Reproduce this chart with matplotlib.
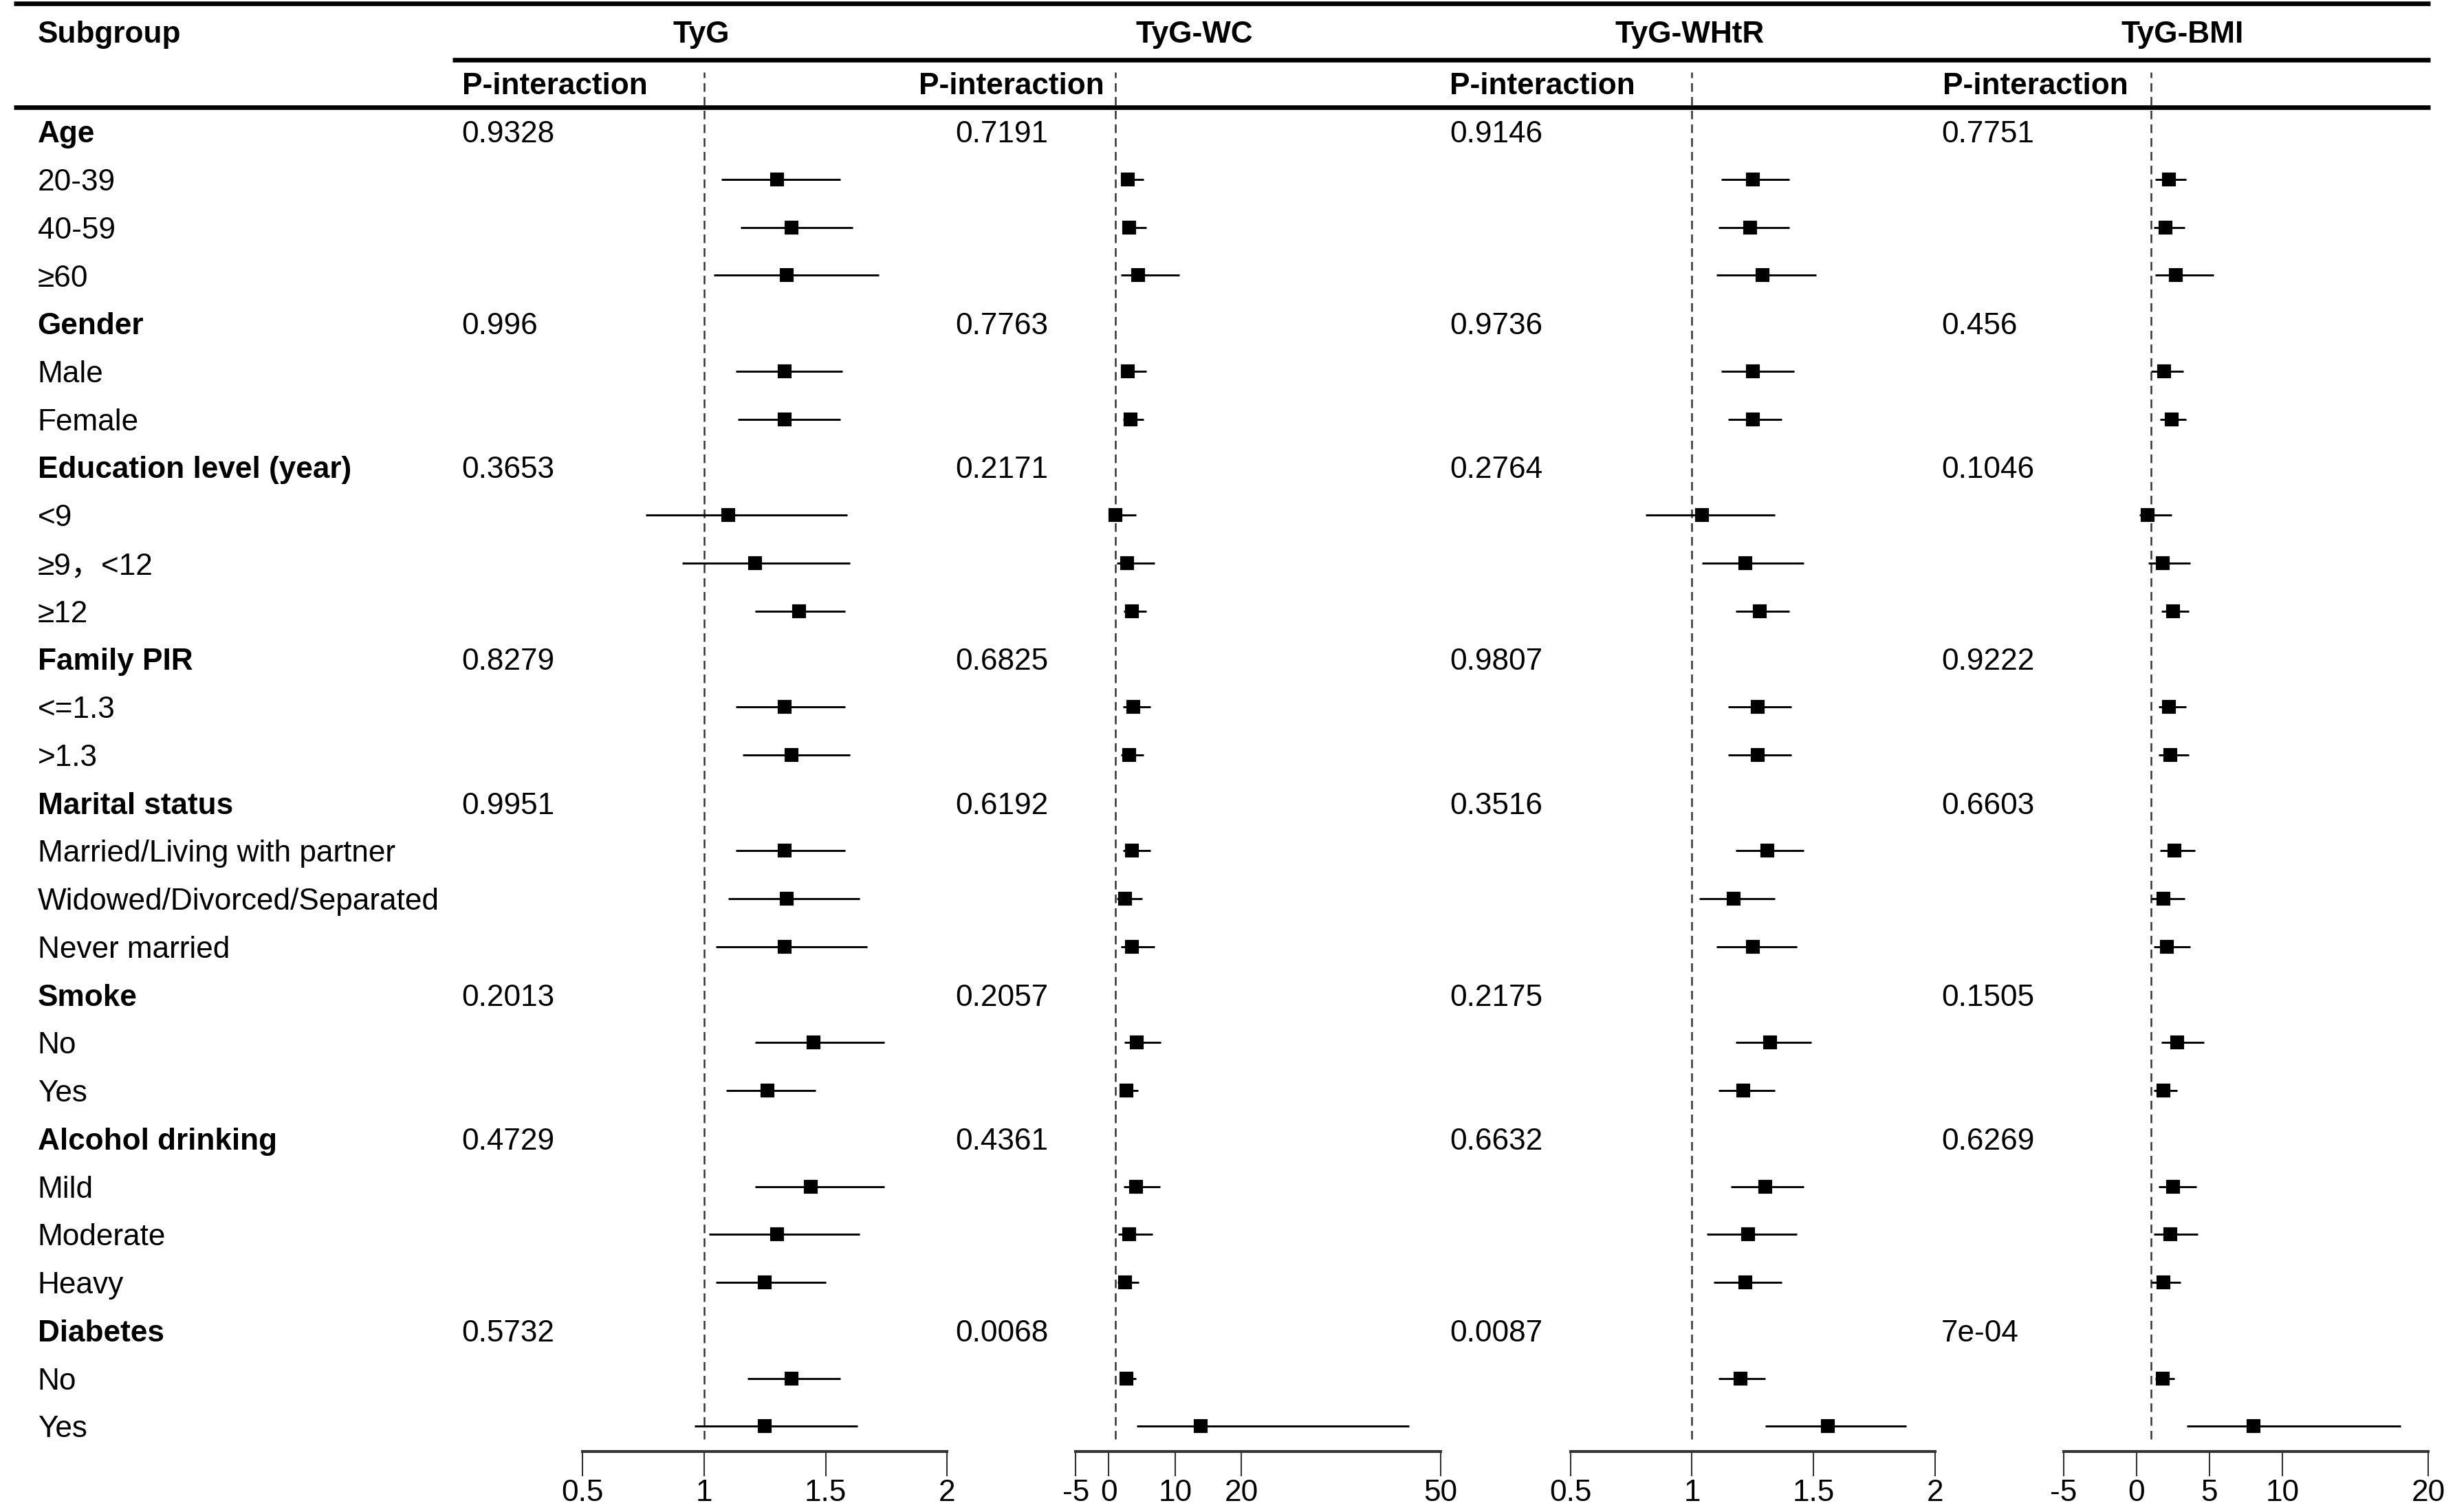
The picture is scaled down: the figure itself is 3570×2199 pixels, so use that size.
import numpy as np
import matplotlib
matplotlib.use("Agg")
import matplotlib.pyplot as plt

plt.rcParams['font.family'] = ['Liberation Sans', 'Noto Sans CJK SC', 'DejaVu Sans']

# ---------------- data ----------------
row_labels = ["Age", "20-39", "40-59", "≥60",
              "Gender", "Male", "Female",
              "Education level (year)", "<9", "≥9，<12", "≥12",
              "Family PIR", "<=1.3", ">1.3",
              "Marital status", "Married/Living with partner", "Widowed/Divorced/Separated", "Never married",
              "Smoke", "No", "Yes",
              "Alcohol drinking", "Mild", "Moderate", "Heavy",
              "Diabetes", "No", "Yes"]
group_rows = [0, 4, 7, 11, 14, 18, 21, 25]

index_names = ["TyG", "TyG-WC", "TyG-WHtR", "TyG-BMI"]

p_tyg = ["0.9328", "0.996", "0.3653", "0.8279", "0.9951", "0.2013", "0.4729", "0.5732"]
p_wc = ["0.7191", "0.7763", "0.2171", "0.6825", "0.6192", "0.2057", "0.4361", "0.0068"]
p_whtr = ["0.9146", "0.9736", "0.2764", "0.9807", "0.3516", "0.2175", "0.6632", "0.0087"]
p_bmi = ["0.7751", "0.456", "0.1046", "0.9222", "0.6603", "0.1505", "0.6269", "7e-04"]

# subgroup rows (20 rows, in order)
est_tyg = [1.30, 1.36, 1.34, 1.33, 1.33, 1.10, 1.21, 1.39, 1.33, 1.36, 1.33, 1.34, 1.33, 1.45, 1.26, 1.44, 1.30, 1.25, 1.36, 1.25]
lo_tyg = [1.07, 1.15, 1.04, 1.13, 1.14, 0.76, 0.91, 1.21, 1.13, 1.16, 1.13, 1.10, 1.05, 1.21, 1.09, 1.21, 1.02, 1.05, 1.18, 0.96]
hi_tyg = [1.56, 1.61, 1.72, 1.57, 1.56, 1.59, 1.60, 1.58, 1.58, 1.60, 1.58, 1.64, 1.67, 1.74, 1.46, 1.74, 1.64, 1.50, 1.56, 1.63]

est_wc = [2.9, 3.1, 4.4, 2.9, 3.3, 1.0, 2.8, 3.5, 3.7, 3.1, 3.5, 2.4, 3.5, 4.2, 2.7, 4.1, 3.1, 2.4, 2.7, 13.9]
lo_wc = [1.8, 2.1, 1.8, 2.0, 2.1, 0.2, 1.2, 2.2, 2.1, 1.8, 2.1, 1.2, 1.8, 2.3, 1.6, 2.2, 1.4, 1.3, 1.8, 4.2]
hi_wc = [5.3, 5.7, 10.6, 5.7, 5.3, 4.1, 6.9, 5.7, 6.3, 5.3, 6.3, 5.0, 6.9, 7.8, 4.4, 7.7, 6.6, 4.5, 4.1, 45.3]

est_whtr = [1.25, 1.24, 1.29, 1.25, 1.25, 1.04, 1.22, 1.28, 1.27, 1.27, 1.31, 1.17, 1.25, 1.32, 1.21, 1.30, 1.23, 1.22, 1.20, 1.56]
lo_whtr = [1.12, 1.11, 1.10, 1.12, 1.15, 0.81, 1.04, 1.18, 1.15, 1.15, 1.18, 1.03, 1.10, 1.18, 1.11, 1.16, 1.06, 1.09, 1.11, 1.30]
hi_whtr = [1.40, 1.40, 1.51, 1.42, 1.37, 1.34, 1.46, 1.40, 1.41, 1.41, 1.46, 1.34, 1.43, 1.49, 1.34, 1.46, 1.43, 1.37, 1.30, 1.88]

est_bmi = [2.2, 2.0, 2.7, 1.9, 2.4, 0.75, 1.8, 2.5, 2.2, 2.3, 2.6, 1.85, 2.1, 2.8, 1.85, 2.5, 2.3, 1.85, 1.8, 8.0]
lo_bmi = [1.3, 1.2, 1.3, 1.0, 1.6, 0.2, 0.8, 1.7, 1.5, 1.5, 1.6, 1.0, 1.2, 1.7, 1.2, 1.5, 1.2, 1.0, 1.3, 3.45]
hi_bmi = [3.4, 3.3, 5.3, 3.2, 3.4, 2.4, 3.7, 3.6, 3.4, 3.6, 4.0, 3.3, 3.7, 4.6, 2.8, 4.1, 4.2, 3.0, 2.6, 18.1]

ticks_tyg = [0.5, 1, 1.5, 2]
ticks_wc = [-5, 0, 10, 20, 50]
ticks_whtr = [0.5, 1, 1.5, 2]
ticks_bmi = [-5, 0, 5, 10, 20]
ticklabels_tyg = ["0.5", "1", "1.5", "2"]
ticklabels_wc = ["-5", "0", "10", "20", "50"]
ticklabels_whtr = ["0.5", "1", "1.5", "2"]
ticklabels_bmi = ["-5", "0", "5", "10", "20"]

# ---------------- layout ----------------
W, H = 1568.0, 965.8          # layout units (scaled pixels)
FS = 10.6
TY = 2.0                      # small downward text offset
fig = plt.figure(figsize=(11.9, 7.33), dpi=300)
bg = fig.add_axes([0, 0, 1, 1])
bg.set_xlim(0, W)
bg.set_ylim(H, 0)
bg.axis('off')

row_y0, row_dy = 84.0, 30.63
row_y = [row_y0 + i * row_dy for i in range(len(row_labels))]
sub_rows = [i for i in range(len(row_labels)) if i not in group_rows]

# header rules
bg.plot([9, 1552], [2, 2], color='black', lw=1.6, solid_capstyle='butt')
bg.plot([289, 1552], [38, 38], color='black', lw=1.6, solid_capstyle='butt')
bg.plot([9, 1552], [68.5, 68.5], color='black', lw=1.6, solid_capstyle='butt')

bg.text(24, 20 + TY, "Subgroup", fontsize=FS, fontweight='bold', ha='left', va='center')
span_centers = [448, 763, 1079, 1394]
pint_x = [295, 587, 926, 1241]
pval_x = [295, 610, 926, 1240]
for k, name in enumerate(index_names):
    bg.text(span_centers[k], 20 + TY, name, fontsize=FS, fontweight='bold', ha='center', va='center')
    bg.text(pint_x[k], 53 + TY, "P-interaction", fontsize=FS, fontweight='bold', ha='left', va='center')

for i, lab in enumerate(row_labels):
    bold = i in group_rows
    bg.text(24, row_y[i] + TY, lab, fontsize=FS, fontweight='bold' if bold else 'normal',
            ha='left', va='center')

pvals = [p_tyg, p_wc, p_whtr, p_bmi]
for k in range(4):
    for j, gi in enumerate(group_rows):
        bg.text(pval_x[k], row_y[gi] + TY, pvals[k][j], fontsize=FS, ha='left', va='center')

# ---------------- forest panels ----------------
panel_x = [(372, 605), (687, 920), (1003, 1236), (1318, 1551)]
limits = [(0.5, 2), (-5, 50), (0.5, 2), (-5, 20)]
ests = [est_tyg, est_wc, est_whtr, est_bmi]
los = [lo_tyg, lo_wc, lo_whtr, lo_bmi]
his = [hi_tyg, hi_wc, hi_whtr, hi_bmi]
ticks = [ticks_tyg, ticks_wc, ticks_whtr, ticks_bmi]
ticklabels = [ticklabels_tyg, ticklabels_wc, ticklabels_whtr, ticklabels_bmi]

y_top, y_axis = 46.0, 927.0
for k in range(4):
    x0, x1 = panel_x[k]
    ax = fig.add_axes([x0 / W, 1 - y_axis / H, (x1 - x0) / W, (y_axis - y_top) / H])
    ax.set_xlim(*limits[k])
    ax.set_ylim(y_axis, y_top)
    ax.patch.set_alpha(0)
    for s in ['top', 'left', 'right']:
        ax.spines[s].set_visible(False)
    ax.spines['bottom'].set_color('#333333')
    ax.spines['bottom'].set_linewidth(1.0)
    ax.set_yticks([])
    ax.set_xticks(ticks[k])
    ax.set_xticklabels(ticklabels[k])
    ax.tick_params(axis='x', direction='out', length=8.6, width=0.5, color='#333333',
                   labelsize=FS, pad=1)
    ax.axvline(1, ymin=0.009, ymax=1, color='#333333', lw=0.6, ls=(0, (5, 3)), zorder=1)
    ys = [row_y[i] for i in sub_rows]
    ax.hlines(ys, los[k], his[k], color='black', lw=0.7, zorder=2)
    ax.plot(ests[k], ys, 's', color='black', markersize=3.8, zorder=3, linestyle='none')

fig.savefig("out.png", dpi=300)
